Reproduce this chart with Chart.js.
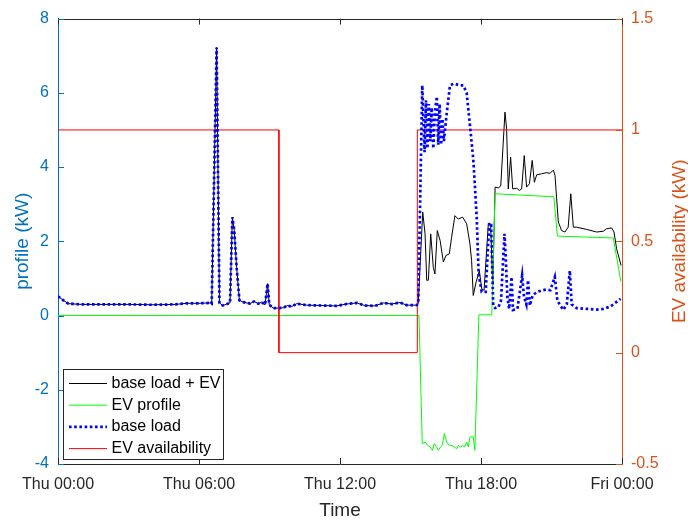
<!DOCTYPE html>
<html>
<head>
<meta charset="utf-8">
<title>EV profile</title>
<script src="https://cdn.jsdelivr.net/npm/chart.js@4.4.0/dist/chart.umd.min.js"></script>
<style>
  html, body { margin: 0; padding: 0; background: #fff; }
  #wrap { width: 688px; height: 521px; position: relative; }
</style>
</head>
<body>
<div id="wrap"><canvas id="chart"></canvas></div>
<script>
// hours since Thu 00:00

// before the EV plugs in, base load and base load + EV coincide
var morningHours = [0, 0.23, 0.44, 1.0, 2.0, 3.0, 4.0, 5.0, 5.5, 6.0, 6.47, 6.54, 6.75, 6.87, 7.01, 7.32, 7.42, 7.50, 7.60, 7.72, 7.89, 8.17, 8.34, 8.52, 8.67, 8.81, 8.92, 8.99, 9.16, 9.37, 9.59, 9.76, 9.94, 10.16, 10.58, 11.2, 11.86, 12.28, 12.71, 13.06, 13.49, 13.84, 14.2, 14.55, 14.84, 15.26, 15.33];
var morningKW = [0.52, 0.41, 0.32, 0.3, 0.3, 0.3, 0.29, 0.3, 0.33, 0.33, 0.34, 0.32, 7.22, 0.34, 0.27, 0.34, 2.65, 2.3, 1.3, 0.41, 0.36, 0.32, 0.38, 0.32, 0.36, 0.29, 0.86, 0.29, 0.2, 0.2, 0.21, 0.27, 0.24, 0.32, 0.28, 0.27, 0.26, 0.31, 0.34, 0.27, 0.26, 0.34, 0.31, 0.35, 0.28, 0.28, 0.32];

var baseAftHours = [15.50, 15.60, 15.66, 15.72, 15.78, 15.84, 15.90, 15.97, 16.04, 16.12, 16.18, 16.24, 16.30, 16.36, 16.42, 16.55, 16.68, 16.85, 17.10, 17.25, 17.39, 17.53, 17.67, 17.75, 17.82, 17.90, 18.03, 18.20, 18.35, 18.43, 18.52, 18.60, 18.74, 18.85, 19.00, 19.05, 19.12, 19.20, 19.30, 19.36, 19.55, 19.75, 19.83, 19.93, 20.00, 20.08, 20.20, 20.40, 20.60, 20.80, 20.95, 21.14, 21.25, 21.50, 21.65, 21.78, 21.86, 22.07, 22.50, 22.92, 23.20, 23.50, 23.94];
var baseAftKW = [6.2, 4.4, 5.8, 4.5, 5.7, 4.7, 5.6, 4.5, 5.5, 5.9, 4.6, 5.7, 4.6, 5.3, 4.7, 5.5, 6.2, 6.25, 6.2, 6.2, 6.0, 5.12, 4.22, 3.4, 2.6, 1.1, 0.64, 0.64, 2.5, 2.45, 0.27, 0.2, 0.22, 0.4, 2.2, 1.6, 0.5, 0.18, 1.04, 0.15, 0.18, 1.08, 0.5, 0.3, 0.95, 0.27, 0.55, 0.64, 0.68, 0.7, 0.68, 1.04, 0.4, 0.15, 0.3, 1.21, 0.3, 0.2, 0.18, 0.16, 0.18, 0.24, 0.45];

var totalAftHours = [15.52, 15.62, 15.69, 15.76, 15.86, 15.97, 16.04, 16.14, 16.26, 16.40, 16.51, 16.65, 16.75, 16.89, 17.03, 17.22, 17.39, 17.53, 17.60, 17.67, 17.79, 17.93, 18.03, 18.13, 18.31, 18.41, 18.50, 18.60, 18.74, 18.84, 19.02, 19.09, 19.16, 19.26, 19.35, 19.52, 19.63, 19.73, 19.84, 19.94, 20.06, 20.18, 20.27, 20.37, 20.58, 20.80, 20.94, 21.08, 21.15, 21.29, 21.43, 21.57, 21.71, 21.82, 21.93, 22.07, 22.50, 22.92, 23.20, 23.35, 23.56, 23.66, 23.77, 23.96];
var totalAftKW = [2.79, 2.2, 0.95, 0.95, 2.2, 1.3, 1.12, 2.29, 2.02, 1.44, 1.62, 1.66, 2.11, 2.69, 2.6, 2.65, 2.47, 1.93, 1.48, 0.54, 0.9, 1.21, 0.72, 0.68, 2.45, 2.45, 0.81, 3.46, 3.44, 3.49, 5.48, 5.03, 3.41, 4.27, 3.41, 3.43, 3.37, 3.41, 4.31, 3.46, 3.55, 4.18, 3.59, 3.79, 3.82, 3.85, 3.83, 3.92, 3.77, 2.52, 2.29, 2.25, 2.38, 3.28, 2.38, 2.38, 2.32, 2.25, 2.27, 2.34, 2.36, 2.25, 1.8, 1.35];

var evHours = [0, 15.36, 15.50, 15.62, 15.73, 15.83, 15.93, 16.01, 16.11, 16.18, 16.28, 16.35, 16.44, 16.54, 16.65, 16.75, 16.86, 16.97, 17.04, 17.14, 17.22, 17.29, 17.39, 17.46, 17.53, 17.67, 17.74, 17.91, 18.46, 18.60, 21.10, 21.25, 23.63, 23.95];
var evKW = [0, 0, -3.45, -3.41, -3.50, -3.54, -3.63, -3.45, -3.54, -3.63, -3.54, -3.50, -3.18, -3.41, -3.50, -3.50, -3.54, -3.59, -3.50, -3.54, -3.50, -3.54, -3.41, -3.54, -3.27, -3.27, -3.63, 0.02, 0.02, 3.28, 3.2, 2.14, 2.09, 0.92];

var availHours = [0, 9.40, 9.40, 15.29, 15.29, 24];
var availKW = [1, 1, 0, 0, 1, 1];

var xTicks = [0, 6, 12, 18, 24];
var xTickLabels = ['Thu 00:00', 'Thu 06:00', 'Thu 12:00', 'Thu 18:00', 'Fri 00:00'];

var LEFT_COLOR = '#0072BD';
var RIGHT_COLOR = '#D95319';
var AXIS_COLOR = '#262626';
var FONT = "'Liberation Sans', Arial, Helvetica, sans-serif";

function points(hours, values) {
  return hours.map(function (h, i) { return { x: h, y: values[i] }; });
}

function line(ctx, x1, y1, x2, y2) {
  ctx.beginPath();
  ctx.moveTo(x1, y1);
  ctx.lineTo(x2, y2);
  ctx.stroke();
}

// MATLAB-ish frame: inward ticks, top edge, rotated right label, legend box inside the axes
var matlabFrame = {
  id: 'matlabFrame',
  afterDraw: function (chart) {
    var ctx = chart.ctx;
    var a = chart.chartArea;
    var sx = chart.scales.x, sl = chart.scales.y, sr = chart.scales.y1;
    ctx.save();
    ctx.lineWidth = 1;

    ctx.strokeStyle = AXIS_COLOR;
    line(ctx, a.left, Math.round(a.top) + 0.5, a.right, Math.round(a.top) + 0.5);
    sx.ticks.forEach(function (t) {
      var px = Math.round(sx.getPixelForValue(t.value)) + 0.5;
      line(ctx, px, a.bottom, px, a.bottom - 6);
      line(ctx, px, a.top, px, a.top + 6);
    });

    ctx.strokeStyle = LEFT_COLOR;
    sl.ticks.forEach(function (t) {
      var py = Math.round(sl.getPixelForValue(t.value)) + 0.5;
      line(ctx, a.left, py, a.left + 6, py);
    });
    ctx.strokeStyle = RIGHT_COLOR;
    sr.ticks.forEach(function (t) {
      var py = Math.round(sr.getPixelForValue(t.value)) + 0.5;
      line(ctx, a.right, py, a.right - 6, py);
    });

    // right axis title reads bottom-to-top like the left one
    ctx.save();
    ctx.translate(680, (a.top + a.bottom) / 2);
    ctx.rotate(-Math.PI / 2);
    ctx.fillStyle = RIGHT_COLOR;
    ctx.font = '19px ' + FONT;
    ctx.textAlign = 'center';
    ctx.textBaseline = 'middle';
    ctx.fillText('EV availability (kW)', 0, 0);
    ctx.restore();

    // legend
    var box = { x: 63.5, y: 369.5, w: 160, h: 90 };
    ctx.fillStyle = '#fff';
    ctx.fillRect(box.x, box.y, box.w, box.h);
    ctx.strokeStyle = AXIS_COLOR;
    ctx.strokeRect(box.x, box.y, box.w, box.h);
    ctx.font = '16px ' + FONT;
    ctx.textAlign = 'left';
    ctx.textBaseline = 'middle';
    var legendOrder = [0, 1, 2, 3];
    legendOrder.forEach(function (di, row) {
      var ds = chart.data.datasets[di];
      var cy = 383.5 + row * 21.7;
      ctx.save();
      ctx.strokeStyle = ds.borderColor;
      ctx.lineWidth = ds.borderWidth;
      ctx.setLineDash(ds.borderDash || []);
      line(ctx, 69, cy, 107, cy);
      ctx.restore();
      ctx.fillStyle = '#000';
      ctx.fillText(ds.label, 111.5, cy);
    });
    ctx.restore();
  }
};

new Chart(document.getElementById('chart'), {
  type: 'line',
  data: {
    datasets: [
      {
        label: 'base load + EV',
        data: points(morningHours.concat(totalAftHours), morningKW.concat(totalAftKW)),
        borderColor: '#000000',
        borderWidth: 1,
        yAxisID: 'y',
        order: 3,
      },
      {
        label: 'EV profile',
        data: points(evHours, evKW),
        borderColor: '#00ff00',
        borderWidth: 1,
        yAxisID: 'y',
        order: 2,
      },
      {
        label: 'base load',
        data: points(morningHours.concat(baseAftHours), morningKW.concat(baseAftKW)),
        borderColor: '#0000ff',
        borderWidth: 2.7,
        borderDash: [2.6, 2.6],
        borderCapStyle: 'butt',
        yAxisID: 'y',
        order: 0,
      },
      {
        label: 'EV availability',
        data: points(availHours, availKW),
        borderColor: '#ff0000',
        borderWidth: 1,
        yAxisID: 'y1',
        order: 1,
      },
    ],
  },
  options: {
    responsive: true,
    maintainAspectRatio: false,
    animation: false,
    devicePixelRatio: 1,
    layout: { padding: { top: 18, left: 0, right: 0, bottom: 0 } },
    elements: { point: { radius: 0 }, line: { tension: 0, fill: false } },
    plugins: { legend: { display: false }, tooltip: { enabled: false } },
    scales: {
      x: {
        type: 'linear',
        min: 0,
        max: 24,
        afterBuildTicks: function (s) {
          s.ticks = xTicks.map(function (v) { return { value: v }; });
        },
        afterFit: function (s) { s.height = 57; },
        grid: { display: false, drawTicks: false },
        border: { display: true, color: AXIS_COLOR, width: 1 },
        ticks: {
          color: AXIS_COLOR,
          font: { family: FONT, size: 16 },
          padding: 11,
          maxRotation: 0,
          autoSkip: false,
          callback: function (v) { return xTickLabels[xTicks.indexOf(v)]; },
        },
        title: {
          display: true,
          text: 'Time',
          color: AXIS_COLOR,
          font: { family: FONT, size: 19, lineHeight: 1 },
          padding: { top: 0, bottom: 1 },
        },
      },
      y: {
        position: 'left',
        min: -4,
        max: 8,
        afterFit: function (s) { s.width = 58; },
        grid: { display: false, drawTicks: false },
        border: { display: true, color: LEFT_COLOR, width: 1 },
        ticks: {
          stepSize: 2,
          color: LEFT_COLOR,
          font: { family: FONT, size: 16 },
          padding: 9,
          callback: function (v) { return String(v); },
        },
        title: {
          display: true,
          text: 'profile (kW)',
          color: LEFT_COLOR,
          font: { family: FONT, size: 19, lineHeight: 1 },
          padding: { top: 13, bottom: 0 },
        },
      },
      y1: {
        position: 'right',
        min: -0.5,
        max: 1.5,
        afterFit: function (s) { s.width = 66; },
        grid: { display: false, drawTicks: false },
        border: { display: true, color: RIGHT_COLOR, width: 1 },
        ticks: {
          stepSize: 0.5,
          color: RIGHT_COLOR,
          font: { family: FONT, size: 16 },
          padding: 9,
          callback: function (v) { return String(v); },
        },
      },
    },
  },
  plugins: [matlabFrame],
});
</script>
</body>
</html>
